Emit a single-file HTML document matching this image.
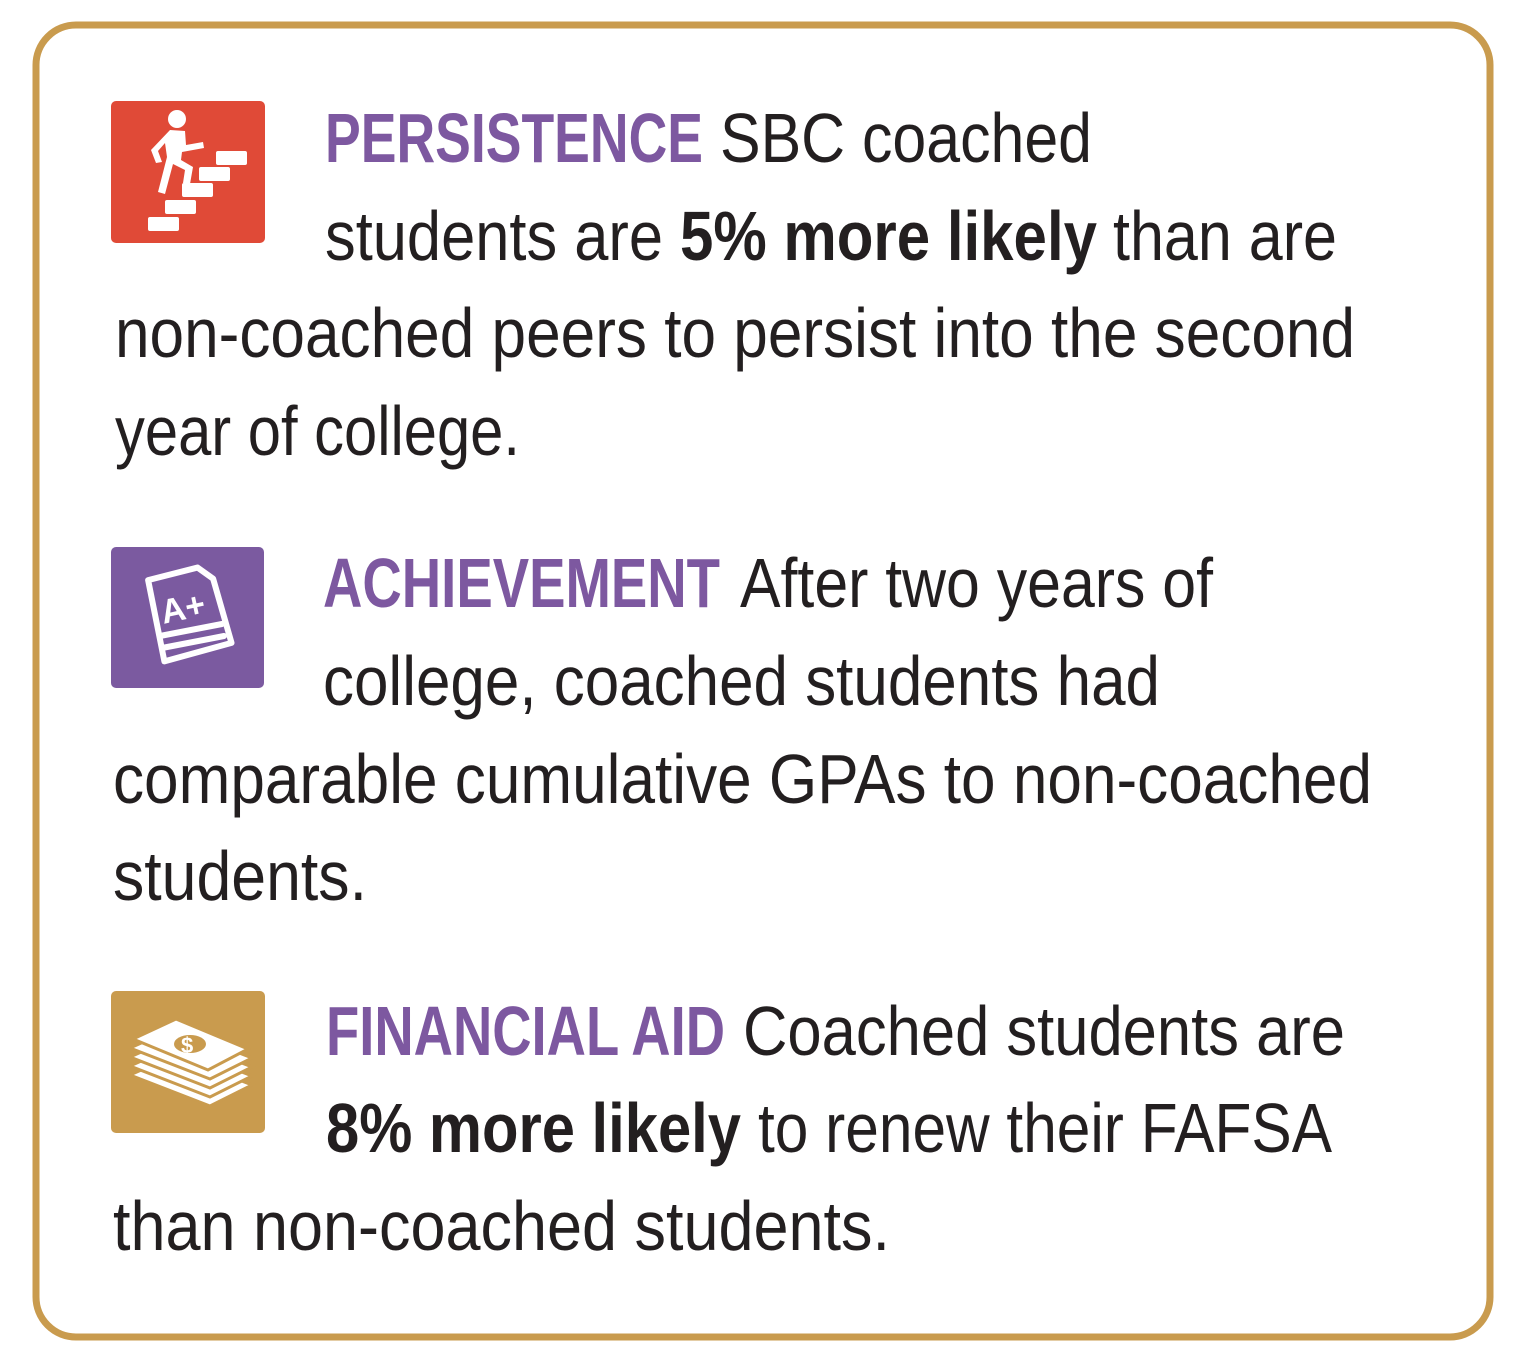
<!DOCTYPE html>
<html><head><style>
html,body{margin:0;padding:0;background:#fff;width:1526px;height:1362px;overflow:hidden}
svg text{font-family:"Liberation Sans",sans-serif;font-size:70px;fill:#231F20}
.h{fill:#7D58A0;font-weight:bold}
.b{font-weight:bold}
</style></head><body>
<svg width="1526" height="1362" viewBox="0 0 1526 1362" xmlns="http://www.w3.org/2000/svg">
<rect x="36" y="25" width="1454" height="1312" rx="40" fill="#fff" stroke="#C99B4E" stroke-width="7"/>
<!-- red icon -->
<rect x="111" y="101" width="154" height="142" rx="5" fill="#E04A37"/>
<g fill="#fff">
<circle cx="177" cy="119" r="9"/>
<path d="M170 130 L185 131 L186 145 L203 142 L204 148 L182 152 L181 160 L193 167 L190 184 L183 183 L185 170 L173 164 L165 194 L158 192 L167 157 L165 143 L158 151 L162 162 L156 163 L151 150 Z"/>
<rect x="216" y="151" width="31" height="14" rx="2"/>
<rect x="199" y="167" width="31" height="14" rx="2"/>
<rect x="182" y="183" width="31" height="14" rx="2"/>
<rect x="165" y="200" width="31" height="14" rx="2"/>
<rect x="148" y="217" width="31" height="14" rx="2"/>
</g>
<!-- purple icon -->
<rect x="111" y="547" width="153" height="141" rx="5" fill="#7B5AA0"/>
<g fill="none" stroke="#fff" stroke-width="6" stroke-linejoin="round" stroke-linecap="round">
<path d="M150 578 L200 568 L215 580 L230 645 L162 660 Z" transform="rotate(-3 190 615)"/>
<path d="M160 636 L222 624 M162 648 L224 636"/>
</g>
<text x="160" y="620" style="font-size:34px;fill:#fff;font-weight:bold" transform="rotate(-12 180 605)">A+</text>
<!-- gold icon -->
<rect x="111" y="991" width="154" height="142" rx="5" fill="#C99B4E"/>
<g fill="#fff" stroke="#C99B4E" stroke-width="3">
<path d="M130 1075 L175 1055 L252 1085 L210 1106 Z"/>
<path d="M130 1066 L175 1046 L252 1076 L210 1097 Z"/>
<path d="M130 1057 L175 1037 L252 1067 L210 1088 Z"/>
<path d="M130 1048 L175 1028 L252 1058 L210 1079 Z"/>
<path d="M133 1039 L176 1019 L248 1049 L208 1070 Z"/>
</g>
<ellipse cx="190" cy="1044" rx="16" ry="9" fill="#C99B4E"/>
<text x="181" y="1053" style="font-size:22px;fill:#fff;font-weight:bold">$</text>

<text x="325" y="162" class="h" textLength="378" lengthAdjust="spacingAndGlyphs">PERSISTENCE</text>
<text x="720" y="162" textLength="372" lengthAdjust="spacingAndGlyphs">SBC coached</text>
<text x="325" y="260" textLength="338" lengthAdjust="spacingAndGlyphs">students are</text>
<text x="680" y="260" class="b" textLength="417" lengthAdjust="spacingAndGlyphs">5% more likely</text>
<text x="1113" y="260" textLength="224" lengthAdjust="spacingAndGlyphs">than are</text>
<text x="115" y="357" textLength="1240" lengthAdjust="spacingAndGlyphs">non-coached peers to persist into the second</text>
<text x="115" y="455" textLength="405" lengthAdjust="spacingAndGlyphs">year of college.</text>

<text x="323" y="607" class="h" textLength="397" lengthAdjust="spacingAndGlyphs">ACHIEVEMENT</text>
<text x="740" y="607" textLength="473" lengthAdjust="spacingAndGlyphs">After two years of</text>
<text x="323" y="705" textLength="837" lengthAdjust="spacingAndGlyphs">college, coached students had</text>
<text x="113" y="803" textLength="1259" lengthAdjust="spacingAndGlyphs">comparable cumulative GPAs to non-coached</text>
<text x="113" y="900" textLength="254" lengthAdjust="spacingAndGlyphs">students.</text>

<text x="326" y="1055" class="h" textLength="399" lengthAdjust="spacingAndGlyphs">FINANCIAL AID</text>
<text x="743" y="1055" textLength="602" lengthAdjust="spacingAndGlyphs">Coached students are</text>
<text x="326" y="1152" class="b" textLength="415" lengthAdjust="spacingAndGlyphs">8% more likely</text>
<text x="758" y="1152" textLength="574" lengthAdjust="spacingAndGlyphs">to renew their FAFSA</text>
<text x="113" y="1250" textLength="777" lengthAdjust="spacingAndGlyphs">than non-coached students.</text>
</svg>
</body></html>
